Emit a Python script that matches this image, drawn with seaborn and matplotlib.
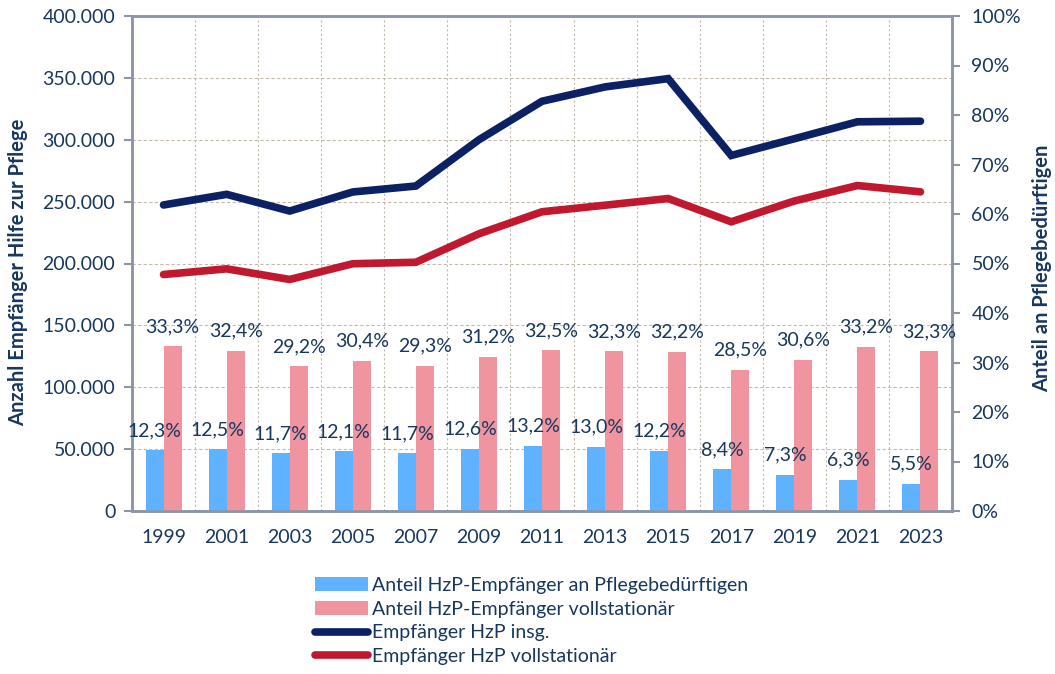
import numpy as np
import pandas as pd
import matplotlib
matplotlib.use("Agg")
import matplotlib.pyplot as plt
import seaborn as sns
from matplotlib.patches import Patch
from matplotlib.lines import Line2D
from matplotlib.ticker import FuncFormatter, MultipleLocator, FixedLocator

# ---- data ----
years = ["1999", "2001", "2003", "2005", "2007", "2009", "2011",
         "2013", "2015", "2017", "2019", "2021", "2023"]
share_all = [12.3, 12.5, 11.7, 12.1, 11.7, 12.6, 13.2, 13.0, 12.2, 8.4, 7.3, 6.3, 5.5]
share_stat = [33.3, 32.4, 29.2, 30.4, 29.3, 31.2, 32.5, 32.3, 32.2, 28.5, 30.6, 33.2, 32.3]
recipients_total = [247300, 255900, 242400, 257800, 262600, 300000, 331100,
                    342700, 349400, 287300, 300800, 314500, 315000]
recipients_stat = [191100, 195700, 187100, 199800, 201000, 224000, 241800,
                   247100, 252500, 233700, 250500, 263000, 257900]

lbl_all = "Anteil HzP-Empfänger an Pflegebedürftigen"
lbl_stat = "Anteil HzP-Empfänger vollstationär"
lbl_tot = "Empfänger HzP insg."
lbl_vs = "Empfänger HzP vollstationär"

# ---- style ----
sns.set_style("white")
plt.rcParams["font.family"] = ["Lato", "DejaVu Sans"]
TXT = "#17375E"
NAVY = "#0B2163"
RED = "#C0182F"
BLUE = "#5EB2FF"
PINK = "#F0959F"
SPINE = "#8C94A6"
GRID = "#C4BBAE"
FS = 14

fig = plt.figure(figsize=(10.55, 6.74), dpi=100)
ax = fig.add_axes([132 / 1055, 1 - 511 / 674, (952 - 132) / 1055, (511 - 16) / 674])
ax2 = ax.twinx()

# bars (percent, right axis)
df_bars = pd.DataFrame({
    "year": years * 2,
    "value": share_all + share_stat,
    "series": [lbl_all] * len(years) + [lbl_stat] * len(years),
})
sns.barplot(data=df_bars, x="year", y="value", hue="series",
            palette=[BLUE, PINK], width=0.57, gap=0, ax=ax2,
            legend=False, saturation=1, edgecolor="none", order=years)

for cont in ax2.containers:
    for rect in cont:
        v = rect.get_height()
        ax2.annotate(f"{v:.1f}".replace(".", ",") + "%",
                     (rect.get_x() + rect.get_width() / 2, v),
                     xytext=(0, 8), textcoords="offset points",
                     ha="center", va="bottom", fontsize=FS, color=TXT)

# lines (counts, left axis)
xpos = np.arange(len(years))
sns.lineplot(x=xpos, y=recipients_total, ax=ax, color=NAVY, lw=5.5,
             solid_capstyle="round", solid_joinstyle="miter")
sns.lineplot(x=xpos, y=recipients_stat, ax=ax, color=RED, lw=5.5,
             solid_capstyle="round", solid_joinstyle="miter")

# axes setup
ax.set_xlim(-0.5, len(years) - 0.5)
ax.set_ylim(0, 400000)
ax2.set_ylim(0, 100)
ax.yaxis.set_major_locator(MultipleLocator(50000))
ax.yaxis.set_major_formatter(FuncFormatter(lambda v, p: f"{int(v):,}".replace(",", ".")))
ax2.yaxis.set_major_locator(MultipleLocator(10))
ax2.yaxis.set_major_formatter(FuncFormatter(lambda v, p: f"{int(round(v))}%"))

ax2.set_xticks(xpos)
ax2.set_xticklabels(years)
ax2.xaxis.set_minor_locator(FixedLocator(np.arange(-0.5, len(years), 1.0)))
ax.xaxis.set_minor_locator(FixedLocator(np.arange(-0.5, len(years), 1.0)))
ax.set_xticks(xpos)
ax.set_xticklabels(years)

ax.tick_params(axis="x", which="major", length=0, pad=13, labelsize=FS, labelcolor=TXT)
ax.tick_params(axis="x", which="minor", length=6, width=1.5, color=SPINE, direction="out")
ax2.tick_params(axis="x", which="both", length=0, labelbottom=False)
ax.tick_params(axis="y", length=6, width=1.5, color=SPINE, labelsize=FS, labelcolor=TXT, pad=6)
ax2.tick_params(axis="y", length=6, width=1.5, color=SPINE, labelsize=FS, labelcolor=TXT, pad=8)

ax.grid(True, axis="y", which="major", color=GRID, ls=(0, (3, 2)), lw=0.8)
ax.grid(True, axis="x", which="minor", color=GRID, ls=(0, (2, 2)), lw=0.8)
ax.grid(False, axis="x", which="major")
ax2.grid(False)
ax.set_axisbelow(True)

for a in (ax, ax2):
    for s in a.spines.values():
        s.set_visible(True)
        s.set_color(SPINE)
        s.set_linewidth(1.8)

ax.set_xlabel("")
ax2.set_xlabel("")
ax.set_ylabel("Anzahl Empfänger Hilfe zur Pflege", fontsize=14.5, fontweight="bold",
              color=TXT)
ax.yaxis.set_label_coords(-0.127, 0.483)
ax2.set_ylabel("Anteil an Pflegebedürftigen", fontsize=14.5, fontweight="bold",
               color=TXT)
ax2.yaxis.set_label_coords(1.0976, 0.491)

handles = [
    Patch(facecolor=BLUE, edgecolor="none"),
    Patch(facecolor=PINK, edgecolor="none"),
    Line2D([], [], color=NAVY, lw=5.5, solid_capstyle="round"),
    Line2D([], [], color=RED, lw=5.5, solid_capstyle="round"),
]
fig.legend(handles, [lbl_all, lbl_stat, lbl_tot, lbl_vs], loc="upper left",
           bbox_to_anchor=(305 / 1055, 1 - 567 / 674), frameon=False,
           fontsize=FS, labelcolor=TXT, handlelength=2.75, handletextpad=0.2,
           labelspacing=0.35, borderpad=0)

fig.savefig("out.png", dpi=100)
